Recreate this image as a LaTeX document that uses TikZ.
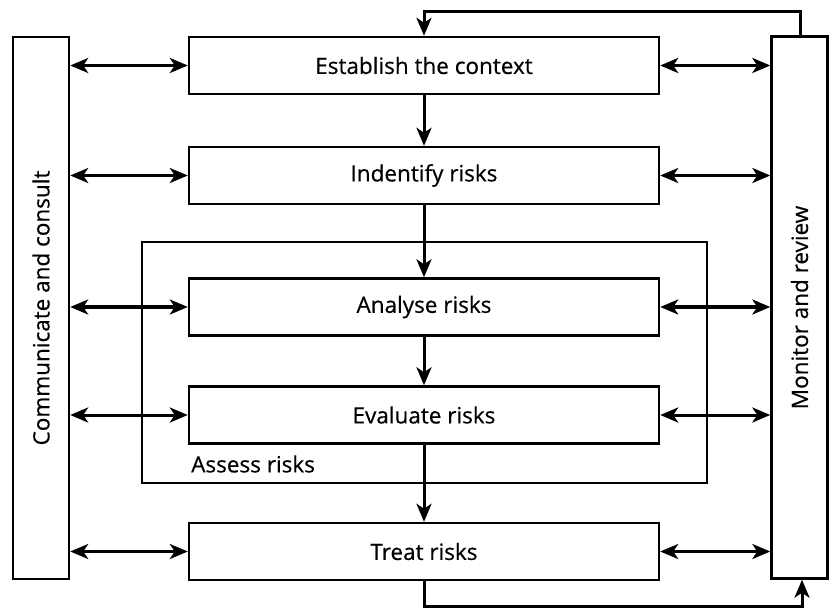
\documentclass[tikz,border=0pt]{standalone}
\usepackage{fontspec}
\setmainfont{Open Sans}
\newfontfamily\diagramfont{Open Sans}[FakeBold=0.5]
\usetikzlibrary{arrows.meta}
\begin{document}
\begin{tikzpicture}[x=1pt,y=-1pt,
  labelfont/.style={font=\diagramfont\fontsize{22.5}{26}\selectfont},
  stagebox/.style={draw, line width=2.4pt, minimum width=470pt, minimum height=57pt,
    inner sep=0pt, labelfont},
  sidebar/.style={draw, line width=2.4pt, minimum width=56pt, minimum height=542pt,
    inner sep=0pt},
  sidelabel/.style={rotate=90, labelfont},
  tip/.tip={Stealth[length=18pt,width=15pt,inset=5pt]},
  flow/.style={line width=3pt, -tip},
  link/.style={line width=3pt, tip-tip},
  frame/.style={draw, line width=2.4pt}]
\useasboundingbox (0,0) rectangle (829,609);

% side bars
\node[sidebar] (comm) at (41,308) {};
\node[sidelabel] at (comm.center) {Communicate and consult};
\node[sidebar] (mon) at (799.5,307.5) {};
\node[sidelabel] at (mon.center) {Monitor and review};

% assessment frame
\node[frame, minimum width=565pt, minimum height=241pt, inner sep=0pt] (assess) at (424.5,362.5) {};
\node[anchor=west, labelfont, inner sep=0pt] (assesslabel) at (191,464) {Assess risks};

% process steps
\node[stagebox] (ctx) at (424,65.5) {Establish the context};
\node[stagebox] (ident) at (424,175.5) {Indentify risks};
\node[stagebox] (anal) at (424,307) {Analyse risks};
\node[stagebox] (eval) at (424,415) {Evaluate risks};
\node[stagebox] (treat) at (424,551.5) {Treat risks};

% main flow
\draw[flow] (ctx) -- (ident);
\draw[flow] (ident) -- (anal);
\draw[flow] (anal) -- (eval);
\draw[flow] (eval) -- (treat);

% exchanges with the side bars
\foreach \s in {ctx,ident,anal,eval,treat}{
  \draw[link] (comm.east |- \s.west) -- (\s.west);
  \draw[link] (\s.east) -- (mon.west |- \s.east);
}

% feedback loops
\coordinate (topturn) at (800,12);
\coordinate (botturn) at (802,606);
\draw[flow] (mon.north -| topturn) -- (topturn) -- (topturn -| ctx.north) -- (ctx.north);
\draw[flow] (treat.south) -- (treat.south |- botturn) -- (botturn) -- (botturn |- mon.south);
\end{tikzpicture}
\end{document}
